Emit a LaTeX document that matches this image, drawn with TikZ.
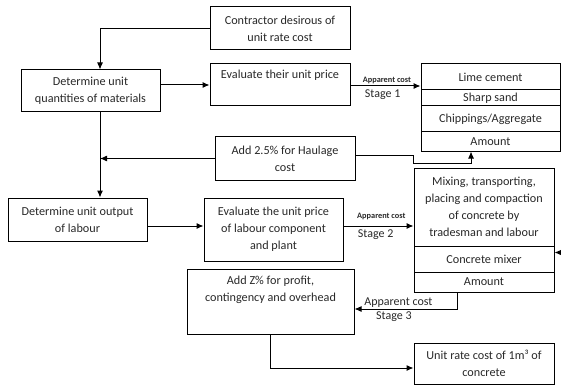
\documentclass[tikz,border=0pt]{standalone}
\usepackage{fontspec}
\setmainfont{Carlito}
\usetikzlibrary{arrows.meta}
\definecolor{inkgray}{RGB}{40,40,40}

\begin{document}
\begin{tikzpicture}[x=1pt,y=-1pt,line width=1pt,
	box/.style={draw,inner sep=0pt,align=center,text=inkgray,
		font=\fontsize{12.2}{17}\selectfont},
	arr/.style={-{Latex[length=7pt,width=6pt]}},
	small/.style={text=inkgray,font=\fontsize{8.3}{9}\selectfont\bfseries},
	stage/.style={text=inkgray,font=\fontsize{12}{13}\selectfont}]
\useasboundingbox (0,0) rectangle (561,390);

\node[box,minimum width=140,minimum height=43] (contractor) at (280,28.5)
	{Contractor desirous of\\unit rate cost};
\node[box,minimum width=139,minimum height=42] (detqty) at (90.5,91)
	{Determine unit\\quantities of materials};
\node[box,minimum width=140,minimum height=42] (evalmat) at (280,85) {};
\node[text=inkgray,font=\fontsize{12.2}{17}\selectfont,anchor=north] (evalmattxt)
	at ([yshift=-3pt]evalmat.north) {Evaluate their unit price};

% materials table
\node[box,minimum width=139,minimum height=26] (limerow) at (490.5,77) {Lime cement};
\node[box,minimum width=139,minimum height=16] (sandrow) at (490.5,98) {Sharp sand};
\node[box,minimum width=139,minimum height=26] (chiprow) at (490.5,119) {Chippings/Aggregate};
\node[box,minimum width=139,minimum height=19] (amtrow) at (490.5,141.5) {Amount};

\node[box,minimum width=140,minimum height=43] (haulage) at (285,158.5)
	{Add 2.5\% for Haulage\\cost};
\node[box,minimum width=139,minimum height=43] (detlab) at (77.5,219.5)
	{Determine unit output\\of labour};
\node[box,minimum width=139,minimum height=63] (evallab) at (273.5,229.5)
	{Evaluate the unit price\\of labour component\\and plant};

% labour and plant table
\node[box,minimum width=140,minimum height=78] (mixrow) at (484,207)
	{Mixing, transporting,\\placing and compaction\\of concrete by\\tradesman and labour};
\node[box,minimum width=140,minimum height=26] (mixerrow) at (484,259) {Concrete mixer};
\node[box,minimum width=140,minimum height=20] (mixamt) at (484,282) {Amount};

\node[box,minimum width=167,minimum height=65] (addz) at (270.5,301.5) {};
\node[text=inkgray,font=\fontsize{12.2}{17}\selectfont,align=center,anchor=north] (addztxt)
	at ([yshift=-4pt]addz.north) {Add Z\% for profit,\\contingency and overhead};
\node[box,minimum width=140,minimum height=41] (unitrate) at (484,363.5)
	{Unit rate cost of 1m³ of\\concrete};

\coordinate (spine) at (100,0);

\draw[arr] (contractor.west) -| (detqty.north -| spine);
\draw[arr] (detqty.east |- evalmat.west) -- (evalmat.west);
\draw[arr] (detqty.south -| spine) -- (detlab.north -| spine);
\draw[arr] (haulage.west) -- (haulage.west -| spine);
\draw[arr] ([yshift=3.5pt]haulage.east) -| (413,163) -| ([xshift=-19.5pt]amtrow.south);
\draw[arr] ([yshift=-1pt]evalmat.east) -- ([yshift=-1pt]evalmat.east -| limerow.west)
	node[small,pos=0.52,above=-1.5pt] (app1) {Apparent cost}
	node[stage,pos=0.46,below=0pt] (stage1) {Stage 1};
\draw[arr] ([yshift=-6.5pt]detlab.east) -- ([yshift=-6.5pt]detlab.east -| evallab.west);
\draw[arr] ([yshift=3.5pt]evallab.east) -- ([yshift=3.5pt]evallab.east -| mixrow.west)
	node[small,pos=0.54,above=2pt] (app2) {Apparent cost}
	node[stage,pos=0.46,below=0pt] (stage2) {Stage 2};
\draw[arr] ([xshift=-27pt]mixamt.south) |- ([yshift=-7.5pt]addz.east)
	node[stage,pos=0.786,above=-2pt] (app3) {Apparent cost}
	node[stage,pos=0.808,below=-1pt] (stage3) {Stage 3};
\draw[arr] (addz.south) |- ([yshift=-4.5pt]unitrate.west);
\draw[arr] ([yshift=-2pt]sandrow.east) -- ++(8,0) |- ([yshift=6.5pt]mixerrow.east);
\end{tikzpicture}
\end{document}
